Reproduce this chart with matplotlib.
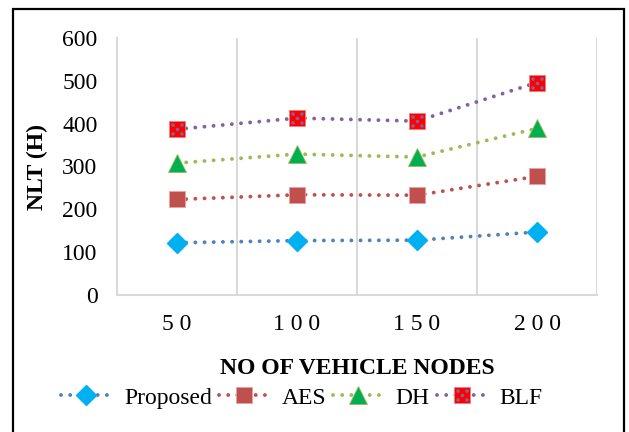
import matplotlib
matplotlib.use('Agg')
import matplotlib.pyplot as plt
from matplotlib.patches import Rectangle
from matplotlib.path import Path
import numpy as np

#### DATA ####
nodes     = ['5 0', '1 0 0', '1 5 0', '2 0 0']
proposed  = [122, 127, 128, 147]
aes       = [223, 234, 233, 277]
dh        = [308, 329, 322, 389]
blf       = [387, 413, 406, 496]

dpi     = 100
figsize = (629/dpi, 432/dpi)

plt.rcParams['font.family'] = ['Liberation Serif', 'DejaVu Serif']
plt.rcParams['font.size'] = 17

# five purple dots drawn over the red BLF squares
dots = [Path.circle((dx, dy), 0.22) for dx, dy in [(-0.55, -0.55), (0.55, -0.55), (0, 0), (-0.55, 0.55), (0.55, 0.55)]]
dotMarker = Path.make_compound_path(*dots)

fig = plt.figure(figsize=figsize, dpi=dpi)
ax = fig.add_axes([117/629, 1-295/432, 480/629, 257/432])

x = np.arange(1, len(nodes)+1)
dotStyle = dict(linestyle=(0, (0.01, 2.35)), dash_capstyle='round', linewidth=2.8)

ax.plot(x, proposed, color='#4F81BD', marker='D', markersize=10.5, markerfacecolor='#00B0F0',
        markeredgecolor='#00B0F0', label='Proposed', **dotStyle)
ax.plot(x, aes, color='#C0504D', marker='s', markersize=12, markerfacecolor='#C0504D',
        markeredgecolor='#E8A0A0', markeredgewidth=0.6, label='AES', **dotStyle)
ax.plot(x, dh, color='#9BBB59', marker='^', markersize=12.5, markerfacecolor='#00B050',
        markeredgecolor='#9BBB59', markeredgewidth=0.6, label='DH', **dotStyle)
blfLine, = ax.plot(x, blf, color='#8064A2', marker='s', markersize=12, markerfacecolor='#FF0000',
                   markeredgecolor='#F08080', markeredgewidth=0.6, **dotStyle)
ax.plot(x, blf, linestyle='none', marker=dotMarker, markersize=9, color='#8064A2', markeredgewidth=0)
blfDots, = ax.plot([], [], linestyle='none', marker=dotMarker, markersize=9, color='#8064A2', markeredgewidth=0)

ax.set_xlim(0.5, 4.5)
ax.set_ylim(0, 600)
ax.set_yticks(range(0, 601, 100))
ax.set_xticks(x)
ax.set_xticklabels(nodes)

# gridlines between categories only
ax.set_xticks(np.arange(1.5, 5, 1), minor=True)
ax.grid(True, which='minor', axis='x', color='#D9D9D9', linewidth=1.5)
ax.grid(False, which='major')
for side in ['top', 'right']:
    ax.spines[side].set_visible(False)
for side in ['left', 'bottom']:
    ax.spines[side].set_color('#D9D9D9')
    ax.spines[side].set_linewidth(1.5)
ax.tick_params(which='both', length=0)
ax.tick_params(axis='y', pad=14)
ax.tick_params(axis='x', pad=14)

ax.set_xlabel('NO OF VEHICLE NODES', fontweight='bold', labelpad=16)
ax.set_ylabel('NLT (H)', fontweight='bold', labelpad=10)

handles, labels = ax.get_legend_handles_labels()
handles.append((blfLine, blfDots))
labels.append('BLF')
fig.legend(handles, labels, loc='center', bbox_to_anchor=(302/629, 1-398/432), ncol=4,
           frameon=False, handlelength=2.1, columnspacing=0.3, handletextpad=0.55,
           borderpad=0, borderaxespad=0)

# outer border
fig.patches.append(Rectangle((13/629, -0.05), 611/629, 1.05-9/432, transform=fig.transFigure,
                             fill=False, edgecolor='black', linewidth=1.6))

plt.savefig('out.png', dpi=dpi)
